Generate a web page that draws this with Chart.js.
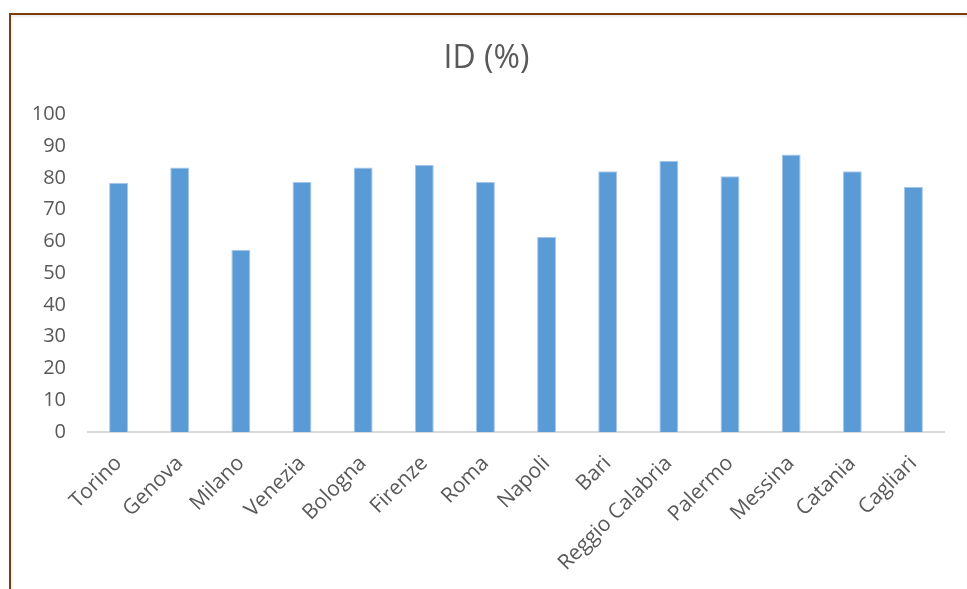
<!DOCTYPE html>
<html>
<head>
<meta charset="utf-8">
<script src="https://cdn.jsdelivr.net/npm/chart.js@4"></script>
<style>
  html, body { margin: 0; padding: 0; background: #fff; }
  #wrap { position: relative; width: 967px; height: 589px; }
  #frame {
    position: absolute; left: 9px; top: 13px; right: 0; bottom: 0;
    border-top: 2px solid #7a3e0e; border-left: 2px solid #7a3e0e;
    box-shadow: inset 1px 2px 2px rgba(0,0,0,0.08);
    pointer-events: none;
  }
</style>
</head>
<body>
<div id="wrap">
  <canvas id="myChart"></canvas>
  <div id="frame"></div>
</div>
<script>
const cities = ["Torino", "Genova", "Milano", "Venezia", "Bologna", "Firenze", "Roma",
  "Napoli", "Bari", "Reggio Calabria", "Palermo", "Messina", "Catania", "Cagliari"];
const idValues = [78.4, 83.3, 57.4, 78.7, 83.3, 84.1, 78.7, 61.4, 82.1, 85.4, 80.5, 87.4, 82.1, 77.2];
const yTicks = [0, 10, 20, 30, 40, 50, 60, 70, 80, 90, 100];

const grey = "#595959";
const font = "'Open Sans', sans-serif";

const data = {
  labels: cities,
  datasets: [
    {
      label: "ID (%)",
      backgroundColor: "#5b9bd5",
      borderColor: "#a7c7ea",
      borderWidth: 1,
      data: idValues,
      barPercentage: 1,
      categoryPercentage: 0.31,
    },
  ],
};

const config = {
  type: "bar",
  data: data,
  options: {
    responsive: true,
    maintainAspectRatio: false,
    animation: false,
    layout: { padding: { left: 29, right: 23, top: 0, bottom: 0 } },
    plugins: {
      legend: { display: false },
      tooltip: { enabled: false },
      title: {
        display: true,
        text: "ID (%)",
        color: grey,
        font: { family: font, size: 32, weight: "normal" },
        padding: { top: 40, bottom: 36 },
      },
    },
    scales: {
      x: {
        grid: { display: false, drawTicks: false },
        border: { display: true, color: "#d9d9d9", width: 2 },
        ticks: {
          color: grey,
          font: { family: font, size: 21 },
          maxRotation: 45,
          minRotation: 45,
          padding: 19,
          autoSkip: false,
        },
        afterFit: (scale) => { scale.height = 157; },
      },
      y: {
        min: yTicks[0],
        max: yTicks[yTicks.length - 1],
        grid: { display: false, drawTicks: false },
        border: { display: false },
        afterBuildTicks: (scale) => { scale.ticks = yTicks.map((v) => ({ value: v })); },
        ticks: {
          color: grey,
          font: { family: font, size: 20 },
          padding: 22,
        },
        afterFit: (scale) => { scale.width = 59; },
      },
    },
  },
};

const myChart = new Chart(document.getElementById("myChart"), config);
</script>
</body>
</html>
